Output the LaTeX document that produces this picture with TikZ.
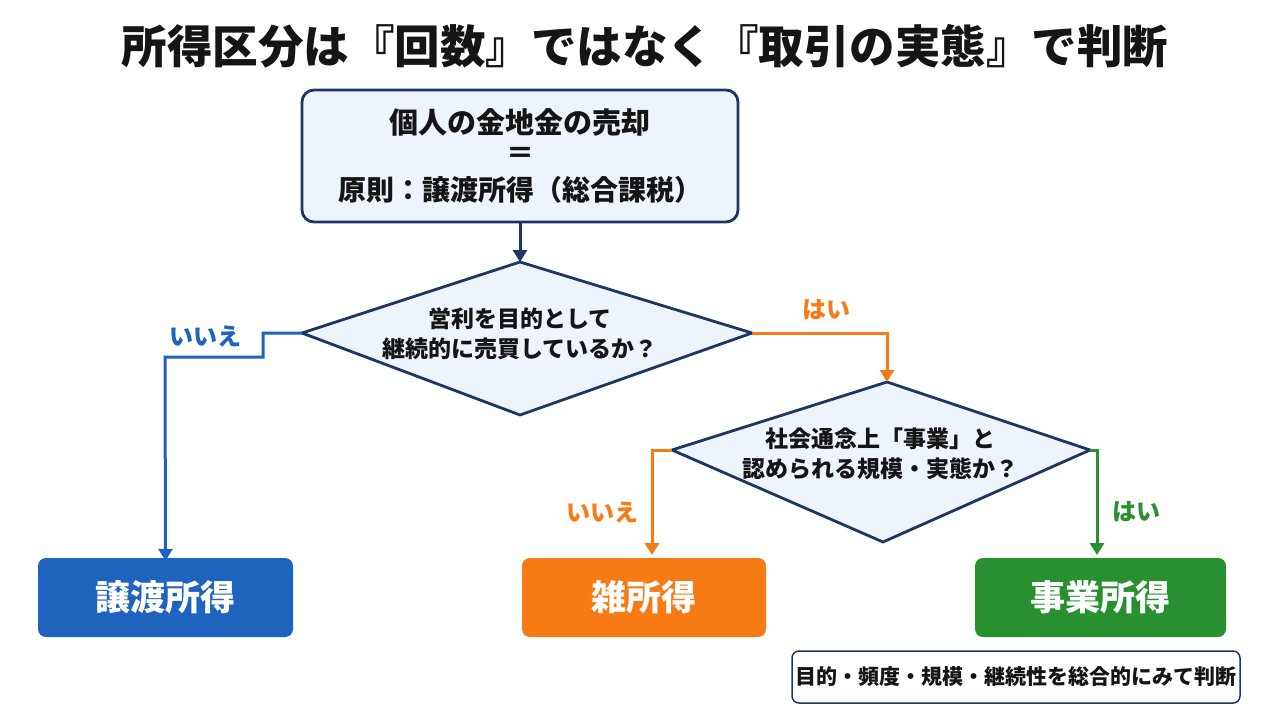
\documentclass[tikz,border=0pt]{standalone}
\usepackage{fontspec}
\newfontfamily\jp{Noto Sans CJK JP}
\usetikzlibrary{arrows.meta}
\definecolor{navy}{HTML}{1C3764}
\definecolor{lightfill}{HTML}{EEF4FB}
\definecolor{cblue}{HTML}{1E63BE}
\definecolor{corange}{HTML}{F77B14}
\definecolor{cgreen}{HTML}{28902F}
\definecolor{ink}{HTML}{151515}
\begin{document}
\begin{tikzpicture}[x=1pt,y=-1pt,
  every node/.style={font=\jp\bfseries, text=ink},
  startbox/.style={draw=navy, line width=2.8pt, fill=lightfill, rounded corners=12pt, minimum width=436pt, minimum height=132pt, align=center, inner sep=0pt},
  diamondline/.style={draw=navy, line width=2.8pt, fill=lightfill, line join=miter},
  qtext/.style={align=center, font=\jp\bfseries\fontsize{23}{30}\selectfont},
  result/.style={rounded corners=8pt, minimum height=79pt, inner sep=0pt, text=white, font=\jp\bfseries\fontsize{35}{40}\selectfont},
  notebox/.style={draw=navy, line width=1.5pt, fill=white, rounded corners=7pt, minimum width=448pt, minimum height=52pt, inner sep=0pt, font=\jp\bfseries\fontsize{21}{26}\selectfont},
  conn/.style={line width=3pt, -{Triangle[width=14pt,length=12pt]}},
  lab/.style={font=\jp\bfseries\fontsize{24}{28}\selectfont}
]
\useasboundingbox (0,0) rectangle (1280,720);
\fill[white] (0,0) rectangle (1280,720);

% title
\node (title) at (645,46) {\fontsize{45.5}{52}\selectfont 所得区分は『回数』ではなく『取引の実態』で判断};

% start box
\node[startbox] (start) at (520,156) {};
\node (s1) at (520,122) {\fontsize{29}{34}\selectfont 個人の金地金の売却};
\node (s2) at (520,155) {\fontsize{28}{32}\selectfont ＝};
\node (s3) at (520,190) {\fontsize{28}{32}\selectfont 原則：譲渡所得（総合課税）};

% diamond 1
\coordinate (d1t) at (520,262);
\coordinate (d1l) at (302,333);
\coordinate (d1r) at (752,333);
\coordinate (d1b) at (520,415);
\draw[diamondline] (d1t) -- (d1r) -- (d1b) -- (d1l) -- cycle;
\node[qtext] (q1) at (520,334) {営利を目的として\\継続的に売買しているか？};

% diamond 2
\coordinate (d2t) at (887,382);
\coordinate (d2l) at (672,450);
\coordinate (d2r) at (1090,450);
\coordinate (d2b) at (883,542);
\draw[diamondline] (d2t) -- (d2r) -- (d2b) -- (d2l) -- cycle;
\node[qtext] (q2) at (880,454) {社会通念上「事業」と\\認められる規模・実態か？};

% results
\node[result, fill=cblue, minimum width=255pt] (r1) at (165.5,597.5) {譲渡所得};
\node[result, fill=corange, minimum width=244pt] (r2) at (644,597.5) {雑所得};
\node[result, fill=cgreen, minimum width=251pt] (r3) at (1100.5,597.5) {事業所得};

% note
\node[notebox] (note) at (1016,677) {目的・頻度・規模・継続性を総合的にみて判断};

% connectors
\draw[conn, navy] (start.south) -- (d1t);
\draw[conn, cblue] (d1l) -- (263,333) -- (263,357) -- (165,357) -- ([yshift=-3pt]r1.north);
\draw[conn, corange] (d1r) -- (887,333) -- (d2t);
\draw[conn, corange] (d2l) -- (652,450) -- (652,555);
\draw[conn, cgreen] (d2r) -- (1097,450) -- (1097,555);

% labels
\node[lab, text=cblue] (l1) at (205,336) {いいえ};
\node[lab, text=corange] (l2) at (826,310) {はい};
\node[lab, text=corange] (l3) at (602,512) {いいえ};
\node[lab, text=cgreen] (l4) at (1136,512) {はい};
\end{tikzpicture}
\end{document}
